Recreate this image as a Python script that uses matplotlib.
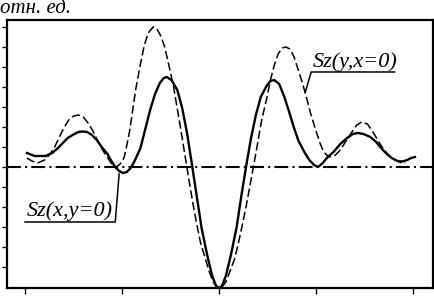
import matplotlib
matplotlib.use("Agg")
import matplotlib.pyplot as plt

plt.rcParams['lines.scale_dashes'] = False

# Sz(x, y=0) - solid curve
x_solid = [-1.98, -1.90, -1.79, -1.72, -1.66, -1.61, -1.56, -1.51, -1.45, -1.41,
           -1.36, -1.31, -1.26, -1.21, -1.15, -1.11, -1.07, -1.03, -0.99, -0.95,
           -0.91, -0.87, -0.81, -0.76, -0.71, -0.66, -0.61, -0.57, -0.54, -0.49,
           -0.43, -0.38, -0.33, -0.28, -0.23, -0.18, -0.12, -0.07, -0.03, 0.00,
           0.03, 0.07, 0.12, 0.18, 0.23, 0.28, 0.33, 0.38, 0.43, 0.49,
           0.53, 0.57, 0.62, 0.67, 0.72, 0.77, 0.82, 0.88, 0.93, 0.98,
           1.02, 1.07, 1.12, 1.18, 1.25, 1.32, 1.38, 1.43, 1.49, 1.56,
           1.62, 1.68, 1.73, 1.78, 1.84, 1.89, 1.94, 1.98, 2.02]
y_solid = [0.14, 0.11, 0.11, 0.14, 0.19, 0.24, 0.29, 0.32, 0.35, 0.355,
           0.35, 0.32, 0.27, 0.20, 0.13, 0.06, 0.00, -0.04, -0.06, -0.05,
           -0.01, 0.06, 0.19, 0.38, 0.57, 0.73, 0.84, 0.89, 0.90, 0.87,
           0.77, 0.59, 0.34, 0.03, -0.29, -0.61, -0.89, -1.09, -1.19, -1.21,
           -1.19, -1.09, -0.89, -0.61, -0.29, 0.01, 0.29, 0.52, 0.70, 0.81,
           0.86, 0.87, 0.83, 0.71, 0.56, 0.40, 0.26, 0.15, 0.07, 0.02,
           0.00, 0.04, 0.10, 0.15, 0.23, 0.29, 0.33, 0.34, 0.33, 0.30,
           0.25, 0.18, 0.13, 0.09, 0.06, 0.055, 0.07, 0.09, 0.10]

# Sz(y, x=0) - dashed curve
x_dash = [-1.98, -1.93, -1.87, -1.80, -1.75, -1.70, -1.65, -1.60, -1.55, -1.50,
          -1.45, -1.40, -1.35, -1.30, -1.25, -1.20, -1.14, -1.10, -1.06, -1.02,
          -0.98, -0.95, -0.92, -0.89, -0.86, -0.81, -0.77, -0.73, -0.68, -0.64,
          -0.60, -0.56, -0.52, -0.47, -0.43, -0.39, -0.35, -0.31, -0.27, -0.23,
          -0.19, -0.14, -0.10, -0.06, -0.03, 0.00, 0.03, 0.07, 0.11, 0.16,
          0.20, 0.24, 0.28, 0.32, 0.36, 0.40, 0.44, 0.49, 0.53, 0.57,
          0.61, 0.65, 0.69, 0.73, 0.77, 0.81, 0.86, 0.90, 0.94, 0.99,
          1.04, 1.08, 1.13, 1.19, 1.25, 1.31, 1.37, 1.42, 1.47, 1.53,
          1.58, 1.63, 1.68, 1.73, 1.78, 1.84, 1.88, 1.92]
y_dash = [0.09, 0.06, 0.04, 0.07, 0.12, 0.19, 0.29, 0.39, 0.47, 0.51,
          0.52, 0.50, 0.44, 0.36, 0.26, 0.17, 0.08, 0.02, 0.00, 0.03,
          0.09, 0.22, 0.37, 0.57, 0.77, 1.03, 1.22, 1.34, 1.40, 1.38,
          1.31, 1.20, 1.03, 0.81, 0.58, 0.35, 0.11, -0.13, -0.36, -0.57,
          -0.76, -0.92, -1.05, -1.15, -1.19, -1.21, -1.20, -1.15, -1.05, -0.92,
          -0.76, -0.58, -0.39, -0.18, 0.03, 0.25, 0.47, 0.68, 0.87, 1.02,
          1.13, 1.19, 1.20, 1.18, 1.11, 0.99, 0.84, 0.70, 0.55, 0.39,
          0.24, 0.15, 0.10, 0.11, 0.17, 0.26, 0.35, 0.42, 0.45, 0.43,
          0.36, 0.28, 0.20, 0.14, 0.09, 0.06, 0.04, 0.04]

x_ticks = [-2, -1, 0, 1, 2]
y_ticks = [-1.0, -0.8, -0.6, -0.4, -0.2, 0.0, 0.2, 0.4, 0.6, 0.8, 1.0, 1.2, 1.4]

label_solid = "Sz(x,y=0)"
label_dash = "Sz(y,x=0)"
y_unit = "отн. ед."

fig = plt.figure(figsize=(4.34, 2.96), dpi=100)
ax = fig.add_axes([7/434, 8/296, 426/434, 268/296])

ax.plot(x_solid, y_solid, color='black', lw=1.7, solid_joinstyle='round')
ax.plot(x_dash, y_dash, color='black', lw=1.1, dashes=(6, 2.5))
ax.axhline(0, color='black', lw=1.5, dashes=(10, 3, 1.5, 3))

ax.set_xlim(-2.186, 2.206)
ax.set_ylim(-1.21, 1.47)
ax.set_xticks(x_ticks)
ax.set_yticks(y_ticks)
ax.set_xticklabels([])
ax.set_yticklabels([])
ax.tick_params(axis='both', direction='out', length=3.5, width=1.0, color='black')
ax.tick_params(axis='x', length=4)
for s in ax.spines.values():
    s.set_linewidth(1.6)
    s.set_color('black')

tfont = dict(family='Liberation Serif', style='italic', size=16, color='black')

# left label with underline and leader
ax.text(-1.98, -0.49, label_solid, ha='left', va='baseline', **tfont)
ax.plot([-2.00, -1.07, -1.03], [-0.55, -0.55, -0.07], color='black', lw=1.1)

# right label with underline and leader
ax.text(0.97, 1.00, label_dash, ha='left', va='baseline', **tfont)
ax.plot([1.81, 0.95, 0.89], [0.95, 0.95, 0.75], color='black', lw=1.1)

fig.text(0.0, 1 - 13/296, y_unit, ha='left', va='baseline',
         family='Liberation Serif', style='italic', size=15, color='black')

fig.savefig('out.png', dpi=100)
